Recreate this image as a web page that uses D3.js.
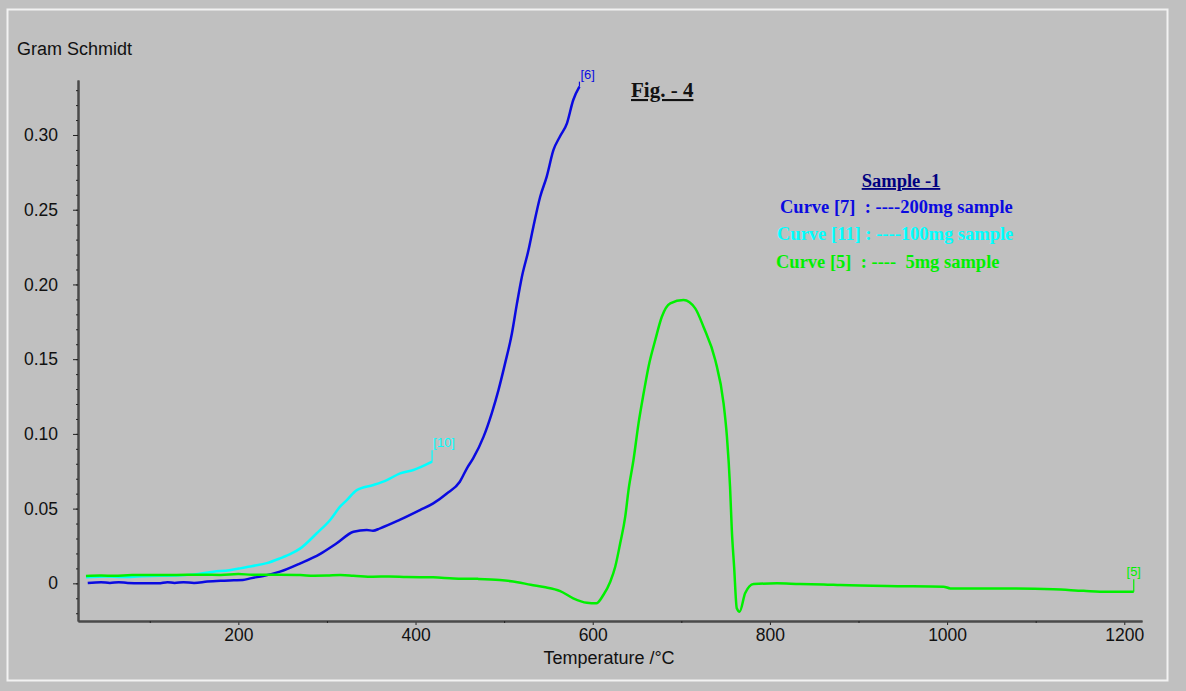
<!DOCTYPE html>
<html>
<head>
<meta charset="utf-8">
<script src="https://cdn.jsdelivr.net/npm/d3@7"></script>
<style>
  html, body { margin: 0; padding: 0; background: #c0c0c0; }
  svg { display: block; }
  .sans { font-family: Arial, "Liberation Sans", sans-serif; }
  .serif { font-family: "Times New Roman", "Liberation Serif", serif; font-weight: bold; }
</style>
</head>
<body>
<script>
// ---- data (Temperature °C, Gram Schmidt intensity) ----
const curve7 = [ // 200 mg sample, end label [6]
  [30,0.0003],[45,0.0008],[55,0.0002],[65,0.0008],[75,0.0003],[90,0.0001],[110,0.0001],[120,0.0008],
  [128,0.0002],[138,0.0008],[150,0.0003],[165,0.0012],[180,0.0017],[195,0.002],[205,0.0022],[215,0.0035],
  [228,0.0049],[247,0.0078],[270,0.0134],[292,0.0196],[311,0.0268],[330,0.0345],[345,0.0357],[352,0.0352],
  [360,0.0368],[382,0.0424],[405,0.049],[420,0.0535],[435,0.060],[450,0.068],[458,0.077],[465,0.0836],
  [476.7,0.098],[486,0.1138],[493.6,0.1293],[501,0.147],[508.7,0.167],[514.4,0.187],[520,0.205],
  [527.5,0.223],[533,0.2386],[540.7,0.2587],[548,0.272],[555.7,0.290],[563,0.299],[570.9,0.3078],
  [578,0.3234],[585,0.3323]
];
const curve11 = [ // 100 mg sample, end label [10]
  [28,0.0040],[50,0.0045],[70,0.0042],[90,0.0047],[110,0.0050],[130,0.0052],[150,0.0060],[172,0.0078],
  [190,0.0088],[202,0.010],[215,0.0115],[232,0.0135],[247,0.0167],[260,0.020],[270,0.0234],[288.5,0.0335],
  [303.6,0.0424],[314.8,0.0513],[322.4,0.0557],[333.7,0.0624],[352.5,0.0658],[367.6,0.0691],
  [382.6,0.0736],[397.6,0.0758],[418.7,0.0814]
];
const curve5 = [ // 5 mg sample, end label [5]
  [28,0.0049],[45,0.0052],[60,0.005],[80,0.0055],[100,0.0055],[130,0.0056],[160,0.0058],[180,0.0056],
  [200,0.0062],[215,0.0058],[240,0.0057],[270,0.0055],[285,0.0051],[300,0.0052],[315,0.0055],[330,0.0051],
  [352,0.0044],[370,0.0046],[390,0.0042],[420,0.0040],[443,0.0033],[470,0.0030],[495,0.0022],[515,0.0008],
  [530,-0.001],[545,-0.0025],[563.3,-0.0052],[578,-0.010],[593.4,-0.013],[604,-0.0134],[612,-0.0078],
  [619.8,0.0011],[625.4,0.0111],[631,0.0268],[636.7,0.0446],[640.4,0.0624],[646,0.0825],[651.7,0.107],
  [657.4,0.127],[663,0.145],[670.6,0.1628],[678,0.1784],[687.5,0.1874],[702.5,0.1896],[715.7,0.184],
  [725,0.1717],[738.3,0.1494],[747.7,0.1204],[751.5,0.098],[755,0.0646],[757,0.0357],[759.6,0.0111],
  [762.6,-0.0167],[765.8,-0.019],[772,-0.0067],[781.6,-0.0005],[808,0.0],[834,-0.0005],[860.6,-0.0007],
  [879.5,-0.0011],[932,-0.0018],[996,-0.0022],[1003.7,-0.0034],[1052.6,-0.0034],[1120,-0.004],
  [1154,-0.005],[1180.7,-0.0056],[1210.7,-0.0056]
];
const endLabels = ["[6]", "[10]", "[5]"];
const endLabelValues = [0.3357, 0.089, 0.0027];

const xTicks = [200, 400, 600, 800, 1000, 1200];
const xMinorTicks = [100, 300, 500, 700, 900, 1100];
const yTicks = [0, 0.05, 0.10, 0.15, 0.20, 0.25, 0.30];
const yTickLabels = ["0", "0.05", "0.10", "0.15", "0.20", "0.25", "0.30"];
const yMinorTicks = d3.range(-2, 34).map(i => i / 100);

const legendTitle = "Sample -1";
const legendLines = [
  "Curve [7]  : ----200mg sample",
  "Curve [11] : ----100mg sample",
  "Curve [5]  : ----  5mg sample"
];
const figTitle = "Fig. - 4";
const yTitle = "Gram Schmidt";
const xTitle = "Temperature /°C";

// ---- layout ----
const W = 1186, H = 691;
const colors = ["#0a0ae0", "#00ffff", "#00f000"];
const series = [curve7, curve11, curve5];

const svg = d3.select("body").append("svg").attr("width", W).attr("height", H);
svg.append("rect").attr("width", W).attr("height", H).attr("fill", "#c0c0c0");
svg.append("rect").attr("x", 7.5).attr("y", 9.5).attr("width", 1160).attr("height", 671)
  .attr("fill", "#c0c0c0").attr("stroke", "#f2f2f2").attr("stroke-width", 2);

const x = d3.scaleLinear().domain([19, 1220]).range([78, 1142]);
const y = d3.scaleLinear().domain([-0.0252, 0.3368]).range([621, 80]);

// axes
const xAxis = svg.append("g").attr("transform", "translate(0,621)");
xAxis.call(d3.axisBottom(x).tickValues(xTicks).tickSize(4).tickSizeOuter(0).tickFormat(d3.format("d")));
xAxis.append("g").call(d3.axisBottom(x).tickValues(xMinorTicks).tickSize(2).tickSizeOuter(0).tickFormat(""));
xAxis.selectAll(".domain").attr("stroke", "#4a4a4a").attr("stroke-width", 2);
xAxis.selectAll(".tick line").attr("stroke", "#222");
xAxis.selectAll(".tick text").attr("class", "sans").attr("font-size", 17.5).attr("fill", "#111").attr("y", 8);

const yAxis = svg.append("g").attr("transform", "translate(78,0)");
yAxis.call(d3.axisLeft(y).tickValues(yTicks).tickSize(5).tickSizeOuter(0).tickFormat((d, i) => yTickLabels[i]));
yAxis.append("g").call(d3.axisLeft(y).tickValues(yMinorTicks).tickSize(2).tickSizeOuter(0).tickFormat(""));
yAxis.selectAll(".domain").attr("stroke", "#4a4a4a").attr("stroke-width", 2);
yAxis.selectAll(".tick line").attr("stroke", "#222");
yAxis.selectAll(".tick text").attr("class", "sans").attr("font-size", 17.5).attr("fill", "#111").attr("x", -20);

// titles
svg.append("text").attr("class", "sans").attr("x", 17).attr("y", 55).attr("font-size", 18).attr("fill", "#111").text(yTitle);
svg.append("text").attr("class", "sans").attr("x", 609).attr("y", 664).attr("text-anchor", "middle")
  .attr("font-size", 18).attr("fill", "#111").text(xTitle);

// curves
const line = d3.line().x(d => x(d[0])).y(d => y(d[1])).curve(d3.curveMonotoneX);
series.forEach((s, i) => {
  svg.append("path").datum(s).attr("d", line).attr("fill", "none")
    .attr("stroke", colors[i]).attr("stroke-width", 2.5).attr("stroke-linejoin", "round");
  const last = s[s.length - 1];
  svg.append("line").attr("x1", x(last[0])).attr("x2", x(last[0]))
    .attr("y1", y(last[1])).attr("y2", y(endLabelValues[i]))
    .attr("stroke", colors[i]).attr("stroke-width", 1.2);
  svg.append("text").attr("class", "sans").attr("font-size", 13).attr("fill", colors[i])
    .attr("x", x(last[0])).attr("y", y(endLabelValues[i]) - 3)
    .attr("text-anchor", i === 2 ? "middle" : "start")
    .attr("dx", i === 2 ? 0 : 1)
    .text(endLabels[i]);
});

// figure title
svg.append("text").attr("class", "serif").attr("x", 631).attr("y", 97).attr("font-size", 21)
  .attr("fill", "#111").style("text-decoration", "underline").text(figTitle);

// legend
svg.append("text").attr("class", "serif").attr("x", 901).attr("y", 187).attr("text-anchor", "middle")
  .attr("font-size", 18.5).attr("fill", "#000080").style("text-decoration", "underline").text(legendTitle);
const legendX = [780, 777, 776];
const legendY = [213, 240, 268];
legendLines.forEach((t, i) => {
  svg.append("text").attr("class", "serif").attr("xml:space", "preserve").style("white-space", "pre")
    .attr("x", legendX[i]).attr("y", legendY[i]).attr("font-size", 18.5).attr("fill", colors[i]).text(t);
});
</script>
</body>
</html>
